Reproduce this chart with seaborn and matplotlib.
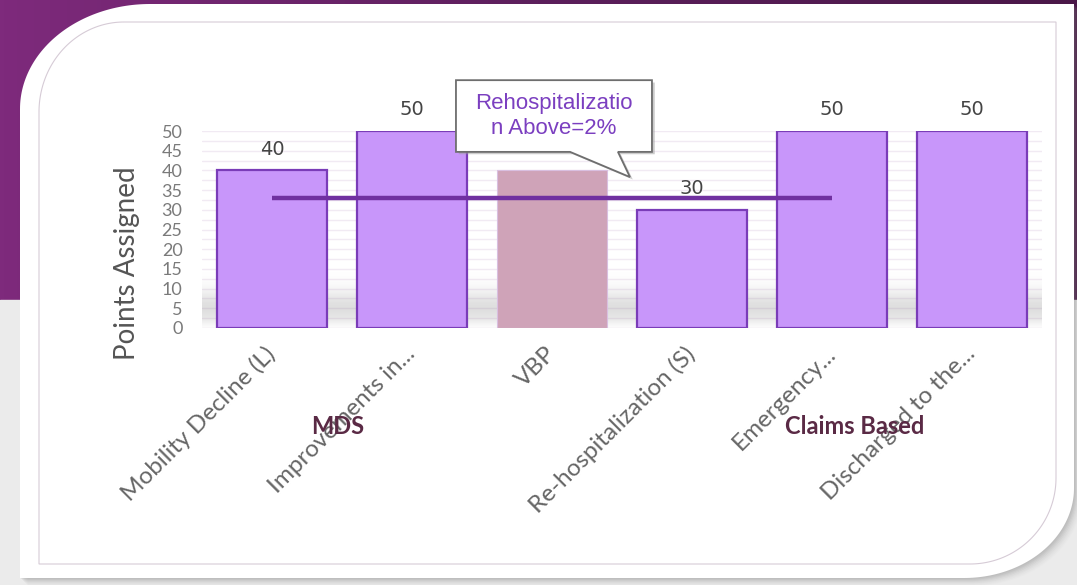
import numpy as np
import matplotlib
matplotlib.use("Agg")
import matplotlib.pyplot as plt
import seaborn as sns
from matplotlib.patches import Polygon
from matplotlib.colors import LinearSegmentedColormap

# ---------------- data ----------------
categories = ["Mobility Decline (L)", "Improvements in...", "VBP",
              "Re-hospitalization (S)", "Emergency...", "Discharged to the..."]
points = [40, 50, 40, 30, 50, 50]
value_labels = ["40", "50", "", "30", "50", "50"]
highlight = "VBP"
threshold_value = 33
threshold_span = [0, 4]          # category index range covered by the line
yticks = [0, 5, 10, 15, 20, 25, 30, 35, 40, 45, 50]
group_labels = ["MDS", "Claims Based"]
group_positions = [0.47, 4.16]
callout_text = "Rehospitalizatio\nn Above=2%"

# ---------------- style ----------------
sns.set_theme(style="white")
plt.rcParams["font.family"] = ["Lato", "DejaVu Sans"]

W, H = 1077, 585
fig = plt.figure(figsize=(W / 100, H / 100), dpi=100)

# ---------- slide background ----------
bg = fig.add_axes([0, 0, 1, 1], zorder=-5)
bg.set_xlim(0, W)
bg.set_ylim(H, 0)
bg.axis("off")
purple = LinearSegmentedColormap.from_list("p", ["#7e2a7c", "#5c1f5c", "#4a1848"])
grad = np.linspace(0, 1, 256)[None, :]
bg.imshow(grad, cmap=purple, extent=(0, W, 300, 0), aspect="auto", zorder=0)
bg.add_patch(plt.Rectangle((0, 300), W, H - 300, color="#ebebeb", zorder=0))


def card_pts(x0, y0, x1, y1, tl, br, n=60):
    pts = []
    t = np.linspace(np.pi, 1.5 * np.pi, n)
    cx, cy = x0 + tl[0], y0 + tl[1]
    pts += list(zip(cx + tl[0] * np.cos(t), cy + tl[1] * np.sin(t)))
    pts.append((x1, y0))
    t = np.linspace(0, 0.5 * np.pi, n)
    cx, cy = x1 - br[0], y1 - br[1]
    pts += list(zip(cx + br[0] * np.cos(t), cy + br[1] * np.sin(t)))
    pts.append((x0, y1))
    return pts


# soft shadow of the card
for k, a in zip(range(1, 9), [0.10, 0.09, 0.08, 0.07, 0.05, 0.04, 0.03, 0.02]):
    bg.add_patch(Polygon(card_pts(20 + k, 4 + k, 1074 + k, 578 + k, (130, 105), (110, 90)),
                         closed=True, facecolor="#808080", edgecolor="none", alpha=a, zorder=1))
bg.add_patch(Polygon(card_pts(20, 4, 1074, 578, (130, 105), (110, 90)),
                     closed=True, facecolor="white", edgecolor="none", zorder=2))
bg.add_patch(Polygon(card_pts(39, 22, 1056, 564, (85, 90), (86, 86)),
                     closed=True, facecolor="white", edgecolor="#d6cbd6", lw=0.8, zorder=3))

# ---------------- chart ----------------
ax = fig.add_axes([202 / W, 1 - 328 / H, 840 / W, 197 / H])
ax.patch.set_alpha(0)

colors = ["#cfa3b8" if c == highlight else "#c896fa" for c in categories]
sns.barplot(x=categories, y=points, hue=categories, palette=colors, legend=False,
            width=0.786, saturation=1, ax=ax, zorder=3)
for cat, patch in zip(categories, ax.patches):
    if cat == highlight:
        patch.set_edgecolor("#d9bfe0")
        patch.set_linewidth(0.8)
    else:
        patch.set_edgecolor("#7a3cb8")
        patch.set_linewidth(1.6)

# faint horizontal guides
for yv in np.arange(0, 51, 2.5):
    ax.axhline(yv, color="#f1eaf3", lw=1.0, zorder=0)

# reflection-like shadow at the bottom of the plot
ys = np.linspace(0, 14, 100)
alpha = 0.28 * np.exp(-((ys - 5.0) / 4.5) ** 2)
alpha[ys < 2] *= np.linspace(0.4, 1, (ys < 2).sum())
img = np.zeros((100, 1, 4))
img[..., :3] = 0.55
img[:, 0, 3] = alpha[::-1]
ax.imshow(img, extent=(-0.5, 5.5, 0, 14), aspect="auto", zorder=1, interpolation="bilinear")

# threshold line
ax.plot(threshold_span, [threshold_value, threshold_value], color="#7030a0", lw=3.2,
        solid_capstyle="butt", zorder=4)

# value labels
for i, (v, s) in enumerate(zip(points, value_labels)):
    if s:
        ax.text(i, v + 3.0, s, ha="center", va="bottom", fontsize=14,
                color="#444444", family=["DejaVu Sans"], zorder=5)

ax.set_xlim(-0.5, 5.5)
ax.set_ylim(0, 50)
ax.set_yticks(yticks)
ax.set_yticklabels([str(t) for t in yticks], fontsize=13, color="#7a7a7a")
ax.tick_params(axis="y", length=0, pad=14)
ax.tick_params(axis="x", length=0, pad=16)
ax.set_xticks(range(len(categories)))
ax.set_xticklabels(categories, rotation=45, ha="right", va="center",
                   rotation_mode="anchor", fontsize=17.5, color="#666666")
ax.set_ylabel("Points Assigned", fontsize=20, color="#555555")
ax.yaxis.set_label_coords(-0.074, 0.33)
ax.set_xlabel("")
for sp in ax.spines.values():
    sp.set_visible(False)
ax.grid(False)

# group labels
for g, xg in zip(group_labels, group_positions):
    ax.text(xg, -25, g, ha="center", va="center", fontsize=17, fontweight="bold",
            color="#5a2a45", clip_on=False, zorder=6)

# callout box
bx0, bx1, by0, by1 = 1.314, 2.714, 44.7, 62.9
tail = [(2.471, by0), (2.557, 38.3), (2.129, by0)]
poly = [(bx0, by1), (bx1, by1), (bx1, by0)] + tail + [(bx0, by0)]
shadow = [(x + 0.02, y - 0.6) for x, y in poly]
ax.add_patch(Polygon(shadow, closed=True, facecolor="#9a9a9a", edgecolor="none",
                     alpha=0.5, clip_on=False, zorder=6))
ax.add_patch(Polygon(poly, closed=True, facecolor="white", edgecolor="#6e6e6e",
                     lw=1.3, clip_on=False, zorder=7))
ax.text((bx0 + bx1) / 2, (by0 + by1) / 2, callout_text, ha="center", va="center",
        fontsize=16, color="#7b3fc0", family=["Liberation Sans"], linespacing=1.2,
        zorder=8)

fig.savefig("out.png", dpi=100)
